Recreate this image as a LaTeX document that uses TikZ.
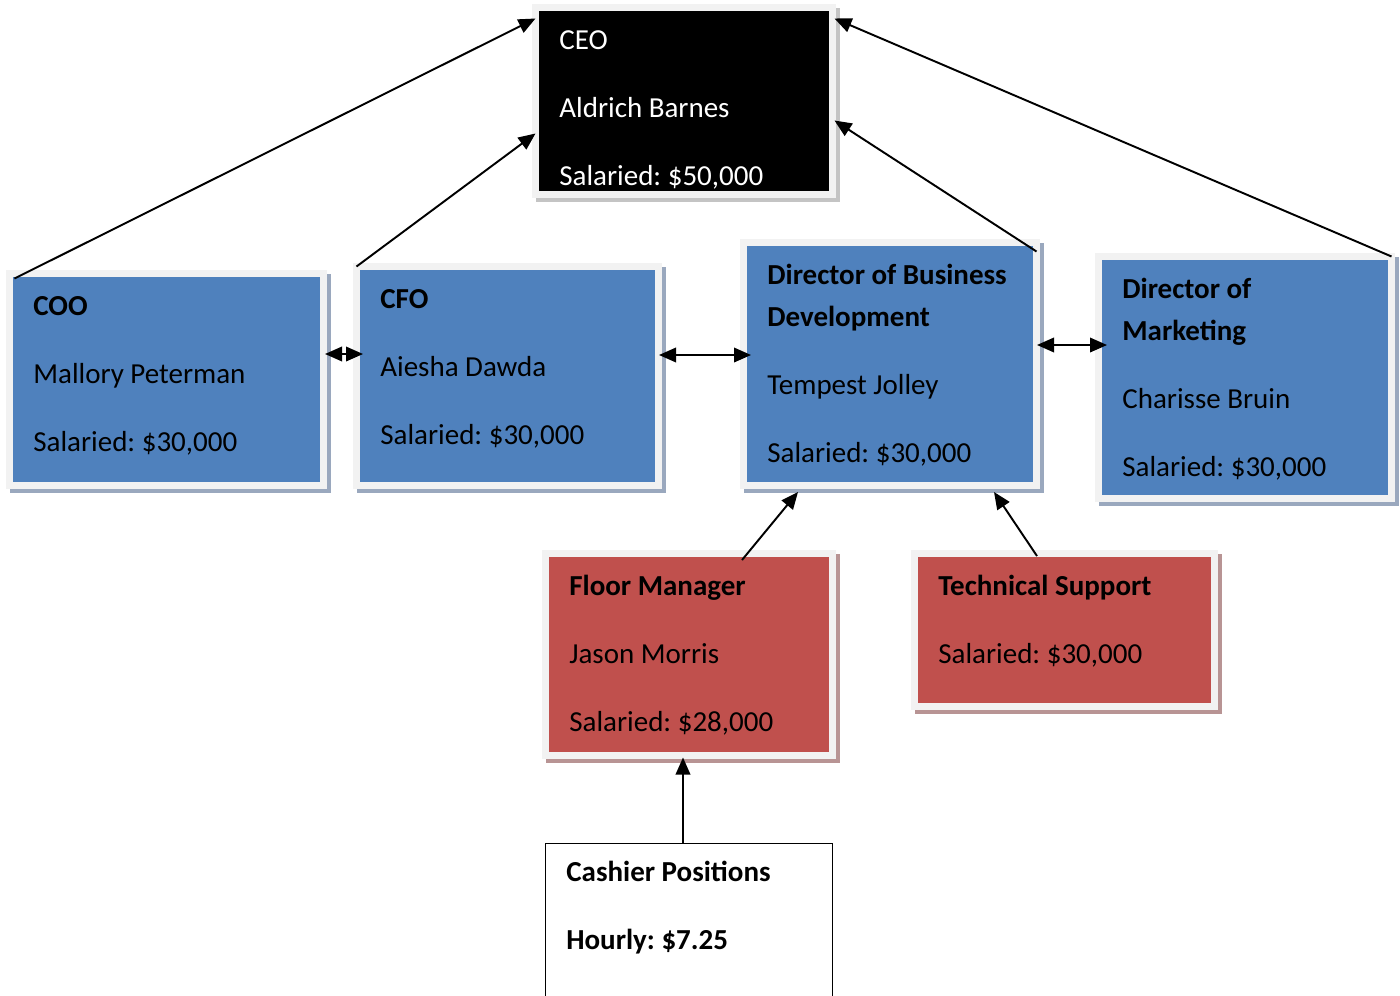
\documentclass[tikz,border=0pt]{standalone}
\usepackage{fontspec}
\setmainfont{Carlito}
\frenchspacing
\usetikzlibrary{positioning}
\usetikzlibrary{shadows}
\usetikzlibrary{arrows.meta}

\definecolor{cardblue}{HTML}{4F81BD}
\definecolor{cardred}{HTML}{C0504D}
\definecolor{cardframe}{HTML}{F2F2F2}
\definecolor{shadeblue}{HTML}{9AA8BE}
\definecolor{shadered}{HTML}{B89494}
\definecolor{shadegrey}{HTML}{C4C4C4}

\begin{document}
\begin{tikzpicture}[x=0.02cm, y=-0.02cm]
  \tikzstyle{card}=[
      rectangle, anchor = north west, inner sep = 0pt, outer sep = 0pt
    , draw = cardframe, line width = 0.14cm
    ]
  \tikzstyle{blue card}=[card, fill = cardblue
    , drop shadow = {shadow xshift = 0.08cm, shadow yshift = -0.08cm, opacity = 1
    , fill = shadeblue, draw = shadeblue, line width = 0.14cm}
    ]
  \tikzstyle{red card}=[card, fill = cardred
    , drop shadow = {shadow xshift = 0.08cm, shadow yshift = -0.08cm, opacity = 1
    , fill = shadered, draw = shadered, line width = 0.14cm}
    ]
  \tikzstyle{black card}=[card, fill = black
    , drop shadow = {shadow xshift = 0.08cm, shadow yshift = -0.08cm, opacity = 1
    , fill = shadegrey, draw = shadegrey, line width = 0.14cm}
    ]
  \tikzstyle{plain card}=[
      rectangle, anchor = north west, inner sep = 0pt, outer sep = 0pt
    , draw = black, fill = white, line width = 0.8pt
    ]
  \tikzstyle{words}=[
      anchor = north west, inner sep = 0pt, align = left
    , font = \fontsize{16.5}{24}\selectfont
    ]
  \tikzstyle{connect}=[-{Triangle[length = 0.34cm, width = 0.29cm]}, line width = 1.1pt]
  \tikzstyle{link}=[{Triangle[length = 0.34cm, width = 0.29cm]}-{Triangle[length = 0.34cm, width = 0.29cm]}, line width = 1.1pt]

  \useasboundingbox (0,0) rectangle (1400,995);

  % boxes
  \node[black card, minimum width = 0.02cm*297, minimum height = 0.02cm*187] (ceo) at (535.5,7.5) {};
  \node[blue card, minimum width = 0.02cm*314, minimum height = 0.02cm*212] (coo) at (9.5,273.5) {};
  \node[blue card, minimum width = 0.02cm*302, minimum height = 0.02cm*219] (cfo) at (356.5,266.5) {};
  \node[blue card, minimum width = 0.02cm*293, minimum height = 0.02cm*243] (dbd) at (743.5,242.5) {};
  \node[blue card, minimum width = 0.02cm*293, minimum height = 0.02cm*242] (dm) at (1098.5,256.5) {};
  \node[red card, minimum width = 0.02cm*287, minimum height = 0.02cm*202] (fm) at (545.5,553.5) {};
  \node[red card, minimum width = 0.02cm*300, minimum height = 0.02cm*153] (ts) at (914.5,553.5) {};
  \node[plain card, minimum width = 0.02cm*287, minimum height = 0.02cm*170] (cashier) at (545.5,843.5) {};

  % texts
  \node[words, text = white] (ceo-txt) at ([shift={(23.5,12)}]ceo.north west)
    {\strut CEO\\[14.7pt] Aldrich Barnes\\[14.7pt] Salaried: \$50,000};
  \node[words] (coo-txt) at ([shift={(23.5,12)}]coo.north west)
    {\strut\textbf{COO}\\[14.7pt] Mallory Peterman\\[14.7pt] Salaried: \$30,000};
  \node[words] (cfo-txt) at ([shift={(23.5,12)}]cfo.north west)
    {\strut\textbf{CFO}\\[14.7pt] Aiesha Dawda\\[14.7pt] Salaried: \$30,000};
  \node[words] (dbd-txt) at ([shift={(23.5,12)}]dbd.north west)
    {\strut\textbf{Director of Business}\\ \textbf{Development}\\[14.7pt] Tempest Jolley\\[14.7pt] Salaried: \$30,000};
  \node[words] (dm-txt) at ([shift={(23.5,12)}]dm.north west)
    {\strut\textbf{Director of}\\ \textbf{Marketing}\\[14.7pt] Charisse Bruin\\[14.7pt] Salaried: \$30,000};
  \node[words] (fm-txt) at ([shift={(23.5,12)}]fm.north west)
    {\strut\textbf{Floor Manager}\\[14.7pt] Jason Morris\\[14.7pt] Salaried: \$28,000};
  \node[words] (ts-txt) at ([shift={(23.5,12)}]ts.north west)
    {\strut\textbf{Technical Support}\\[14.7pt] Salaried: \$30,000};
  \node[words] (cashier-txt) at ([shift={(20.5,8)}]cashier.north west)
    {\strut\textbf{Cashier Positions}\\[14.7pt] \textbf{Hourly: \$7.25}};

  % reporting lines
  \draw[connect] ([shift={(5,5)}]coo.north west) -- ([shift={(0,11)}]ceo.north west);
  \draw[connect] (cfo.north west) -- ([shift={(0,126)}]ceo.north west);
  \draw[connect] ([shift={(0,9)}]dbd.north east) -- ([shift={(2,113)}]ceo.north east);
  \draw[connect] (dm.north east) -- ([shift={(2,11)}]ceo.north east);
  \draw[connect] ([shift={(53,6.5)}]fm.north) -- ([shift={(-92,6.5)}]dbd.south);
  \draw[connect] ([shift={(-27.5,2.5)}]ts.north) -- ([shift={(104,6.5)}]dbd.south);
  \draw[connect] ([shift={(-6,0)}]cashier.north) -- ([shift={(-6,2)}]fm.south);

  % peers
  \draw[link] ([shift={(1.5,-25.5)}]coo.east) -- ([shift={(6.5,-22)}]cfo.west);
  \draw[link] ([shift={(0.5,-21)}]cfo.east) -- ([shift={(7.5,-9)}]dbd.west);
  \draw[link] ([shift={(0.5,-19)}]dbd.east) -- ([shift={(8.5,-32.5)}]dm.west);

\end{tikzpicture}
\end{document}
